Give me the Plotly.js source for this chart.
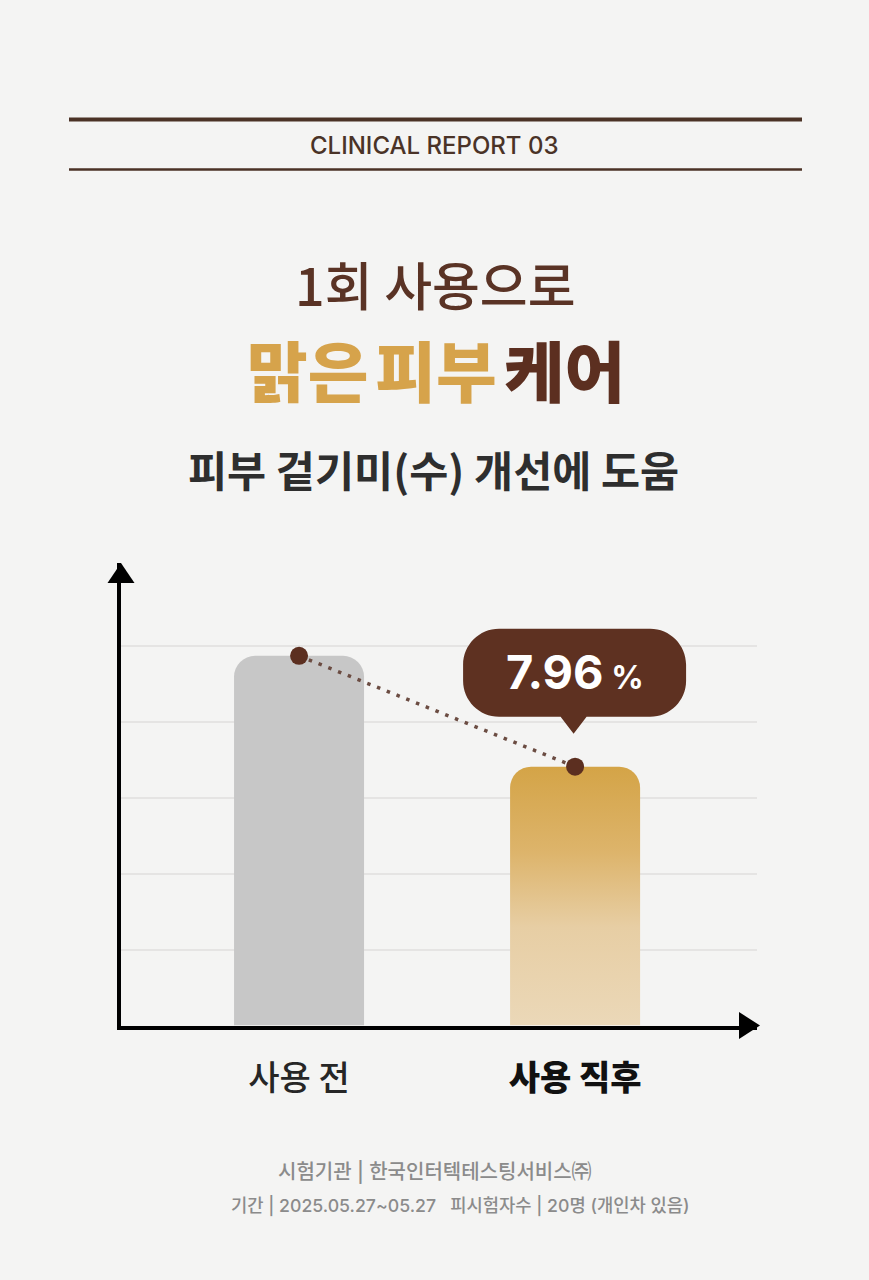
<!DOCTYPE html>
<html><head><meta charset="utf-8">
<script src="https://cdn.plot.ly/plotly-3.0.1.min.js"></script>
<style>html,body{margin:0;padding:0;background:#f4f4f3;} #chart{width:869px;height:1280px;}</style>
</head><body><div id="chart"></div>
<script>
// ---- data ----
const categories = ['사용 전', '사용 직후'];
const values = [4.87, 3.41];
const improvementPct = 7.96;
const gridValues = [1, 2, 3, 4, 5];
const tickTexts = ['<span style="color:#262626">사용 전</span>', '<span style="font-weight:900;color:#111111">사용 직후</span>'];
const headerText = 'CLINICAL REPORT 03';
const titleLine1 = '1회 사용으로';
const titleLine2a = '맑은';
const titleLine2b = '피부';
const titleLine2c = '케어';
const subtitle = '피부 겉기미(수) 개선에 도움';
const footer1 = '시험기관 | 한국인터텍테스팅서비스㈜';
const footer2 = '기간 | 2025.05.27~05.27\u00a0\u00a0\u00a0피시험자수 | 20명 (개인차 있음)';

// ---- layout helpers (page geometry) ----
const W = 869, H = 1280;
const px = x => x / W;
const py = y => 1 - y / H;
const plotL = 121, plotR = 757, plotB = 1025.5, plotT = 563;
const FONT = 'Inter, "Noto Sans CJK KR", sans-serif';
const KFONT = '"Noto Sans CJK KR", Inter, sans-serif';
const BROWN = '#5c2f20';
const GOLD = '#d6a34b';
const thinSpace = '<span style="font-size:30px"> </span>';

const traces = [
  {
    type: 'bar', x: categories, y: values, width: 0.471,
    marker: {color: ['#c7c7c7', '#d8ab55'], cornerradius: 21, line: {width: 0}},
    hoverinfo: 'skip'
  },
  {
    type: 'scatter', mode: 'lines+markers', x: categories, y: values,
    line: {color: '#6b4c42', width: 3.5, dash: '3.5px,7px'},
    marker: {size: 18, color: BROWN},
    hoverinfo: 'skip'
  }
];

// callout bubble, anchored (in pixels) to the "after" point
const L = -112, R = 111, T = 138, B = 50, r = 36, k = 0.552 * r;
const bubblePath = [
  `M ${L + r} ${T}`, `L ${R - r} ${T}`,
  `C ${R - r + k} ${T} ${R} ${T - r + k} ${R} ${T - r}`,
  `L ${R} ${B + r}`,
  `C ${R} ${B + r - k} ${R - r + k} ${B} ${R - r} ${B}`,
  `L 11.5 ${B}`, `L -1.5 33`, `L -14.5 ${B}`,
  `L ${L + r} ${B}`,
  `C ${L + r - k} ${B} ${L} ${B + r - k} ${L} ${B + r}`,
  `L ${L} ${T - r}`,
  `C ${L} ${T - r + k} ${L + r - k} ${T} ${L + r} ${T}`, 'Z'
].join(' ');

const shapes = [
  {type: 'line', xref: 'paper', yref: 'paper', x0: px(69), x1: px(802), y0: py(119.5), y1: py(119.5), line: {color: '#4b3226', width: 4}},
  {type: 'line', xref: 'paper', yref: 'paper', x0: px(69), x1: px(802), y0: py(169.5), y1: py(169.5), line: {color: '#4b3226', width: 2.5}},
  // arrowheads
  {type: 'path', xref: 'paper', yref: 'paper', xsizemode: 'pixel', ysizemode: 'pixel',
   xanchor: px(plotL), yanchor: py(plotT), path: 'M -13.5 -20 L 0 0 L 13.5 -20 Z',
   fillcolor: '#000', line: {width: 0}},
  {type: 'path', xref: 'paper', yref: 'paper', xsizemode: 'pixel', ysizemode: 'pixel',
   xanchor: px(plotR), yanchor: py(plotB), path: 'M -18 13.5 L 3 0 L -18 -13.5 Z',
   fillcolor: '#000', line: {width: 0}},
  // callout bubble
  {type: 'path', xref: 'x', yref: 'y', xsizemode: 'pixel', ysizemode: 'pixel',
   xanchor: categories[1], yanchor: values[1], path: bubblePath,
   fillcolor: '#5e3121', line: {width: 0}}
];

const annotations = [
  {text: headerText, xref: 'paper', yref: 'paper', x: px(434), y: py(145.5), showarrow: false,
   xanchor: 'center', yanchor: 'middle', font: {family: FONT, size: 24, color: '#4a3327', weight: 500}},
  {text: titleLine1, xref: 'paper', yref: 'paper', x: px(435), y: py(283.5), showarrow: false,
   xanchor: 'center', yanchor: 'middle', font: {family: KFONT, size: 52, color: '#5a3325', weight: 500}},
  {text: `<span style="color:${GOLD}">${titleLine2a}${thinSpace}${titleLine2b}</span>${thinSpace}${titleLine2c}`,
   xref: 'paper', yref: 'paper',
   x: px(436), y: py(368.5), showarrow: false, xanchor: 'center', yanchor: 'middle',
   font: {family: KFONT, size: 66, color: BROWN, weight: 900}},
  {text: subtitle, xref: 'paper', yref: 'paper', x: px(433.5), y: py(468), showarrow: false,
   xanchor: 'center', yanchor: 'middle', font: {family: KFONT, size: 42.5, color: '#2e2e2e', weight: 600}},
  {text: footer1, xref: 'paper', yref: 'paper', x: px(435), y: py(1172), showarrow: false,
   xanchor: 'center', yanchor: 'middle', font: {family: FONT, size: 20, color: '#8b8b8b', weight: 500}},
  {text: footer2, xref: 'paper', yref: 'paper', x: px(460.5), y: py(1206), showarrow: false,
   xanchor: 'center', yanchor: 'middle', font: {family: FONT, size: 17.7, color: '#8b8b8b', weight: 500}},
  {text: `<b>${improvementPct.toFixed(2)}</b><span style="font-size:32px"><b> %</b></span>`,
   xref: 'x', yref: 'y', x: categories[1], y: values[1], yshift: 95, showarrow: false,
   xanchor: 'center', yanchor: 'middle', font: {family: FONT, size: 47, color: '#ffffff'}}
];

const layout = {
  width: W, height: H,
  margin: {l: 0, r: 0, t: 0, b: 0},
  paper_bgcolor: '#f4f4f3', plot_bgcolor: '#f4f4f3',
  showlegend: false,
  xaxis: {
    type: 'category', domain: [px(plotL), px(plotR)], range: [-0.645, 1.659],
    showgrid: false, zeroline: false, showline: true, linecolor: '#000', linewidth: 4,
    tickvals: categories, ticktext: tickTexts, ticks: '', ticklabelstandoff: 20,
    tickfont: {family: KFONT, size: 34, color: '#111111', weight: 500}, fixedrange: true
  },
  yaxis: {
    domain: [py(plotB), py(plotT)], range: [0, (plotB - plotT) / ((plotB - 646) / 5)],
    tickvals: gridValues, showticklabels: false, ticks: '',
    showgrid: true, gridcolor: '#e5e4e3', gridwidth: 2,
    zeroline: false, showline: true, linecolor: '#000', linewidth: 4, fixedrange: true
  },
  shapes: shapes,
  annotations: annotations
};

Plotly.newPlot('chart', traces, layout, {displayModeBar: false, staticPlot: true}).then(gd => {
  const svg = gd.querySelector('svg.main-svg');
  const ns = 'http://www.w3.org/2000/svg';
  let defs = svg.querySelector('defs');
  if (!defs) { defs = document.createElementNS(ns, 'defs'); svg.insertBefore(defs, svg.firstChild); }
  const g = document.createElementNS(ns, 'linearGradient');
  g.setAttribute('id', 'goldGrad');
  g.setAttribute('x1', '0'); g.setAttribute('y1', '0'); g.setAttribute('x2', '0'); g.setAttribute('y2', '1');
  [['0', '#d4a447'], ['0.33', '#ddb46b'], ['0.62', '#e7cea4'], ['1', '#ebd8b8']].forEach(([o, c]) => {
    const s = document.createElementNS(ns, 'stop');
    s.setAttribute('offset', o); s.setAttribute('stop-color', c);
    g.appendChild(s);
  });
  defs.appendChild(g);
  const bars = gd.querySelectorAll('.barlayer .point path');
  if (bars[1]) bars[1].style.fill = 'url(#goldGrad)';
});
</script>
</body></html>
